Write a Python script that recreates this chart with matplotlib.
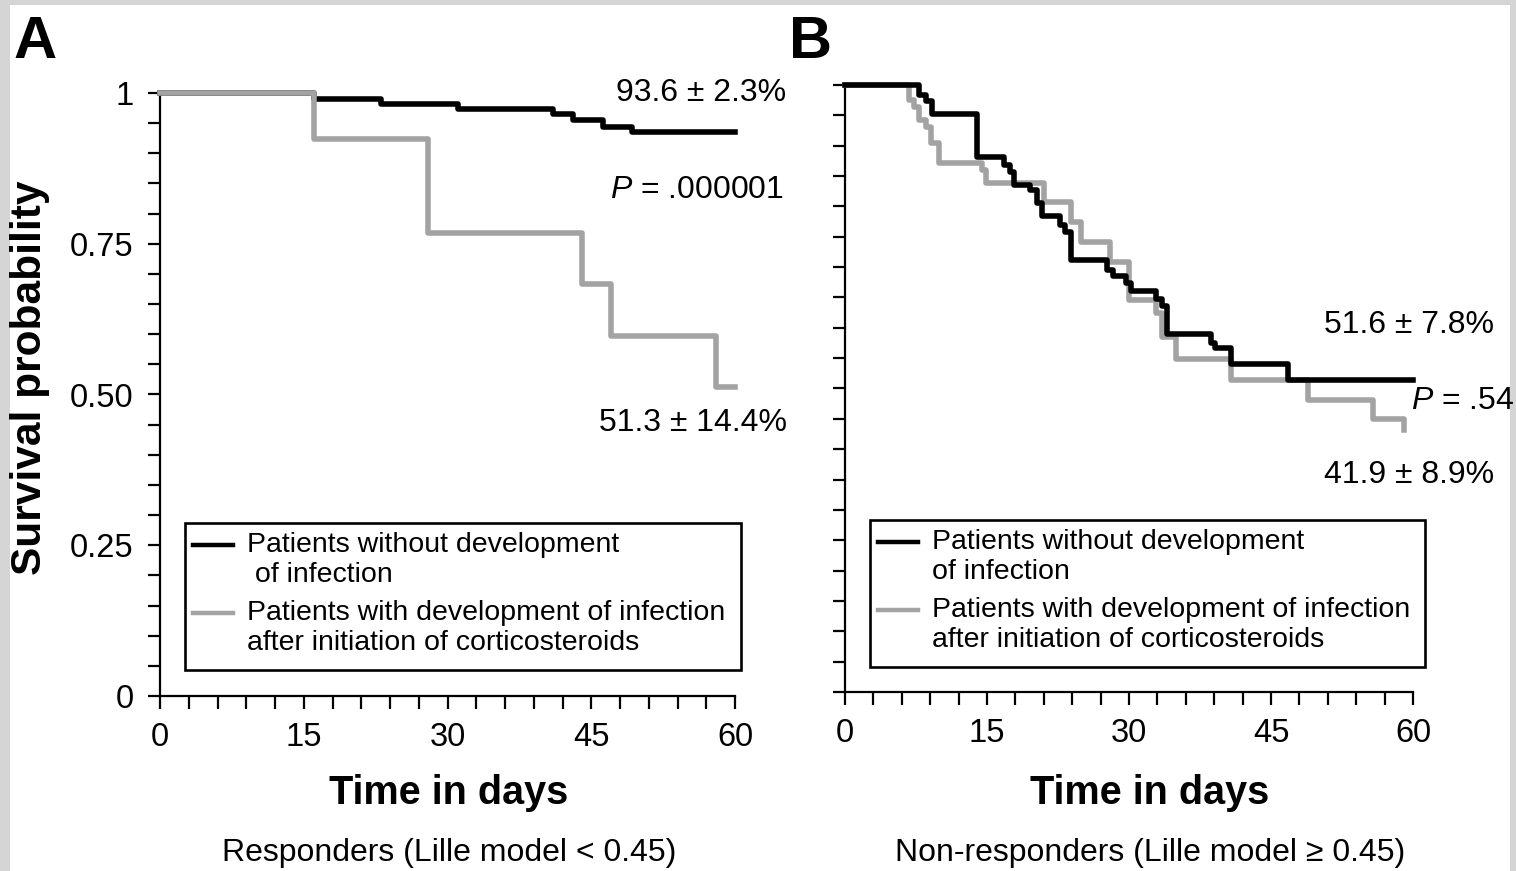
import matplotlib
matplotlib.use('Agg')
import matplotlib.pyplot as plt
from matplotlib.patches import Rectangle
from matplotlib.lines import Line2D
from matplotlib.ticker import MultipleLocator
from matplotlib import font_manager as fm

# ---------------- data ----------------
# Panel A: responders
A_no_inf_t = [0, 16.1, 23.1, 31.1, 41.0, 43.1, 46.2, 49.3, 60]
A_no_inf_s = [1.0, 0.990, 0.982, 0.974, 0.966, 0.956, 0.944, 0.936, 0.936]
A_inf_t = [0, 16.1, 28.0, 44.0, 47.1, 58.0, 60]
A_inf_s = [1.0, 0.924, 0.768, 0.683, 0.597, 0.513, 0.513]

# Panel B: non-responders
B_no_inf_t = [0, 7.8, 8.6, 9.2, 13.9, 16.8, 17.4, 17.9, 19.5, 20.3, 20.8, 22.7, 23.2,
              23.9, 27.7, 28.3, 29.7, 30.2, 32.9, 33.5, 34.0, 38.7, 39.1, 40.8, 46.8, 60]
B_no_inf_s = [1.0, 0.984, 0.973, 0.953, 0.881, 0.868, 0.857, 0.836, 0.827, 0.806, 0.785,
              0.769, 0.758, 0.712, 0.695, 0.686, 0.673, 0.661, 0.647, 0.636, 0.590, 0.575,
              0.567, 0.540, 0.514, 0.514]
B_inf_t = [0, 6.8, 7.3, 7.8, 8.6, 9.1, 9.9, 14.5, 14.9, 21.0, 23.9, 24.9, 28.0, 30.0,
           32.9, 33.5, 35.0, 40.8, 48.9, 55.8, 59.0, 59.1]
B_inf_s = [1.0, 0.975, 0.964, 0.942, 0.931, 0.904, 0.871, 0.860, 0.838, 0.808, 0.775,
           0.742, 0.709, 0.646, 0.624, 0.585, 0.548, 0.514, 0.481, 0.449, 0.432, 0.432]

x_ticks = [0, 15, 30, 45, 60]
y_ticks = [0, 0.25, 0.50, 0.75, 1.0]
y_tick_labels = ['0', '0.25', '0.50', '0.75', '1']

legend_labels_A = ['Patients without development\n of infection',
                   'Patients with development of infection\nafter initiation of corticosteroids']
legend_labels_B = ['Patients without development\nof infection',
                   'Patients with development of infection\nafter initiation of corticosteroids']

# ---------------- style ----------------
names = {f.name for f in fm.fontManager.ttflist}
REG = 'Liberation Sans' if 'Liberation Sans' in names else 'DejaVu Sans'
HAS_NAR = 'Liberation Sans Narrow' in names
NAR = 'Liberation Sans Narrow' if HAS_NAR else REG
plt.rcParams['font.family'] = [REG, 'DejaVu Sans']
plt.rcParams['mathtext.fontset'] = 'custom'
plt.rcParams['mathtext.rm'] = REG
plt.rcParams['mathtext.it'] = REG + ':italic'

BLACK = '#000000'
GRAY = '#a3a3a3'
LW = 4.0

W, H = 1516, 871
fig = plt.figure(figsize=(W / 100, H / 100), dpi=100, facecolor='#d5d5d5')
fig.patches.append(Rectangle((10 / W, 0), 1500 / W, (H - 5) / H, transform=fig.transFigure,
                             facecolor='white', edgecolor='none', zorder=-10))


def fx(x):
    return x / W


def fy(y):
    return 1 - y / H


axA = fig.add_axes([fx(160), fy(696), (735 - 160) / W, (696 - 93) / H])
axB = fig.add_axes([fx(845), fy(692), (1413 - 845) / W, (692 - 85) / H])

xt_size = 28 if HAS_NAR else 23.5
for ax in (axA, axB):
    ax.set_zorder(1)
    ax.set_facecolor('none')
    ax.set_xlim(0, 60)
    ax.set_ylim(0, 1)
    ax.spines['top'].set_visible(False)
    ax.spines['right'].set_visible(False)
    for s in ('left', 'bottom'):
        ax.spines[s].set_linewidth(1.6)
    ax.set_xticks(x_ticks)
    ax.xaxis.set_minor_locator(MultipleLocator(3))
    ax.set_yticks(y_ticks)
    ax.yaxis.set_minor_locator(MultipleLocator(0.05))
    ax.tick_params(which='both', direction='out', length=9, width=1.6, color='black')
    ax.tick_params(axis='x', which='major', pad=10, labelsize=xt_size)
    for lab in ax.get_xticklabels():
        lab.set_family([NAR, REG])

axA.set_yticklabels(y_tick_labels)
axA.tick_params(axis='y', which='major', pad=10, labelsize=23.5)
axB.set_yticklabels([])

# curves
axA.step(A_no_inf_t, A_no_inf_s, where='post', color=BLACK, lw=LW, clip_on=False, zorder=3)
axA.step(A_inf_t, A_inf_s, where='post', color=GRAY, lw=LW, clip_on=False, zorder=4)
axB.step(B_inf_t, B_inf_s, where='post', color=GRAY, lw=LW, clip_on=False, zorder=3)
axB.step(B_no_inf_t, B_no_inf_s, where='post', color=BLACK, lw=LW, clip_on=False, zorder=4)

# annotations
ann = dict(fontsize=23, color='black')
fig.text(fx(786), fy(93), '93.6 \u00b1 2.3%', ha='right', va='center', **ann)
fig.text(fx(784), fy(190), r'$P$ = .000001', ha='right', va='center', **ann)
fig.text(fx(787), fy(423), '51.3 \u00b1 14.4%', ha='right', va='center', **ann)
fig.text(fx(1494), fy(325), '51.6 \u00b1 7.8%', ha='right', va='center', **ann)
fig.text(fx(1411), fy(401), r'$P$ = .54', ha='left', va='center', **ann)
fig.text(fx(1494), fy(475), '41.9 \u00b1 8.9%', ha='right', va='center', **ann)


# legends (drawn manually to keep handle aligned with first line)
def draw_legend(x0, y0, x1, y1, labels, handle_x0, text_x, first_y):
    fig.patches.append(Rectangle((fx(x0), fy(y1)), (x1 - x0) / W, (y1 - y0) / H,
                                 transform=fig.transFigure, facecolor='white',
                                 edgecolor='black', lw=1.9, zorder=5))
    for i, (lab, col) in enumerate(zip(labels, (BLACK, GRAY))):
        yy = first_y + i * 68
        fig.lines.append(Line2D([fx(handle_x0), fx(handle_x0 + 40)], [fy(yy), fy(yy)],
                                transform=fig.transFigure, color=col, lw=3.2, zorder=6))
        l1, l2 = lab.split('\n')
        fig.text(fx(text_x), fy(yy), l1, ha='left', va='center', fontsize=20.5, zorder=6)
        fig.text(fx(text_x), fy(yy + 30), l2, ha='left', va='center', fontsize=20.5, zorder=6)


draw_legend(185, 523, 741, 670, legend_labels_A, 193, 247, 545)
draw_legend(870, 520, 1425, 667, legend_labels_B, 878, 932, 542)

# axis titles and captions
fig.text(fx(30), fy(378), 'Survival probability', rotation=90, ha='center', va='center',
         fontsize=30.5, fontweight='bold')
title_size = 33 if HAS_NAR else 28.5
cap_size = 26 if HAS_NAR else 23
for cx, cap in ((449, 'Responders (Lille model < 0.45)'),
                (1150, 'Non-responders (Lille model \u2265 0.45)')):
    fig.text(fx(cx), fy(793), 'Time in days', ha='center', va='center', fontsize=title_size,
             fontweight='bold', family=[NAR, REG])
    fig.text(fx(cx), fy(853), cap, ha='center', va='center', fontsize=cap_size,
             family=[NAR, REG, 'DejaVu Sans'])

fig.text(fx(14), fy(58), 'A', ha='left', va='baseline', fontsize=43, fontweight='bold')
fig.text(fx(789), fy(58), 'B', ha='left', va='baseline', fontsize=43, fontweight='bold')

fig.savefig('out.png', dpi=100, facecolor=fig.get_facecolor())
